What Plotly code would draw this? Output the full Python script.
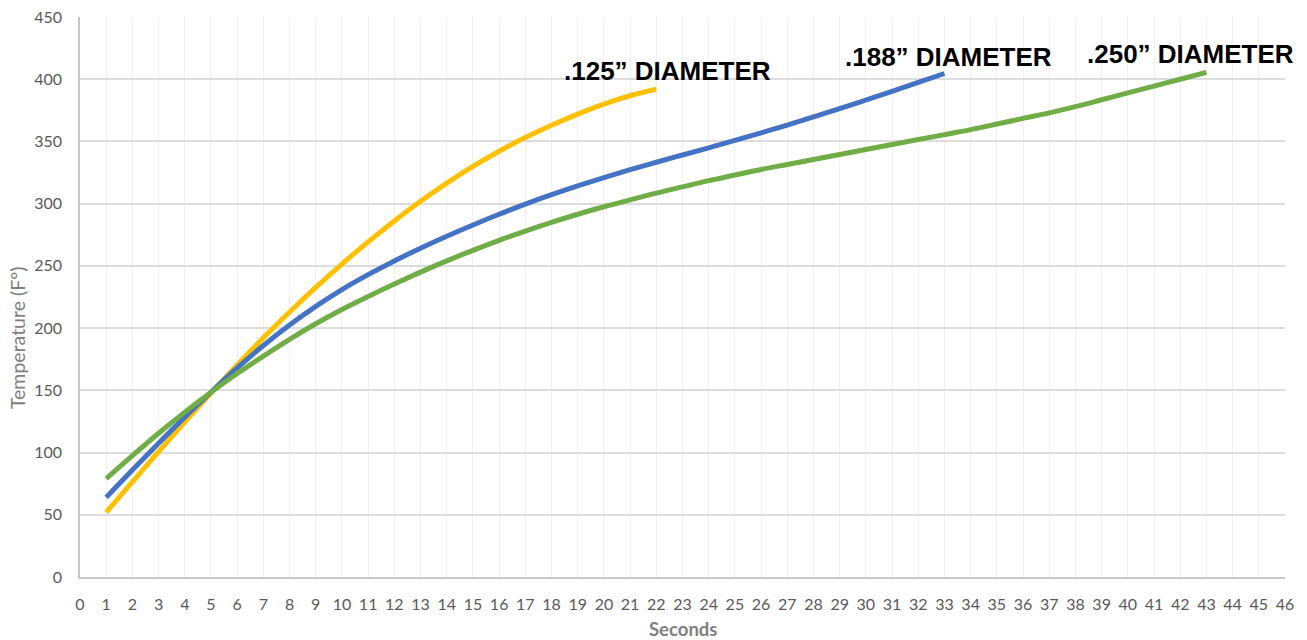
import plotly.graph_objects as go

seconds_125 = list(range(1, 23))
temp_125 = [52, 76.5, 100.7, 124.5, 147.8, 170.4, 192.2, 213, 232.8, 251.5, 269.3,
            286.1, 301.9, 316.5, 329.9, 342.1, 353.1, 363, 372, 380, 386.7, 392]

seconds_188 = list(range(1, 34))
temp_188 = [64, 86, 107.5, 128.5, 148.5, 168, 186, 202.5, 217.5, 231, 243, 254,
            264.2, 273.8, 282.9, 291.5, 299.6, 307.2, 314.3, 321, 327.3, 333.3,
            339.1, 344.9, 350.8, 356.9, 363.2, 369.7, 376.4, 383.3, 390.3, 397.4, 404.6]

seconds_250 = list(range(1, 44))
temp_250 = [79, 97.5, 115.5, 132.5, 148.5, 163.5, 177.5, 191, 203.5, 215, 225.5,
            235.5, 245, 254, 262.5, 270.5, 278, 285, 291.5, 297.5, 303, 308.5,
            313.5, 318.5, 323, 327.5, 331.5, 335.5, 339.5, 343.5, 347.5, 351.5,
            355.5, 359.5, 364, 368.5, 373, 378, 383.5, 389, 394.5, 400, 405.5]

series_names = [".125\u201d DIAMETER", ".188\u201d DIAMETER", ".250\u201d DIAMETER"]
colors = ["#FFC000", "#4472C4", "#70AD47"]

x_ticks = list(range(0, 47))
y_ticks = list(range(0, 451, 50))

fig = go.Figure()
for xs, ys, name, c in [(seconds_125, temp_125, series_names[0], colors[0]),
                        (seconds_188, temp_188, series_names[1], colors[1]),
                        (seconds_250, temp_250, series_names[2], colors[2])]:
    fig.add_trace(go.Scatter(x=xs, y=ys, mode="lines", name=name, hoverinfo="skip",
                             line=dict(color=c, width=5, shape="spline", smoothing=1.0)))

label_pos = [(22.42, 407), (33.15, 417.5), (42.4, 420)]
for (lx, ly), name in zip(label_pos, series_names):
    fig.add_annotation(x=lx, y=ly, text="<b>" + name + "</b>", showarrow=False,
                       font=dict(family="Liberation Sans, Arial", size=26, color="#000000"),
                       xanchor="center", yanchor="middle")

# axis titles
fig.add_annotation(xref="paper", yref="paper", x=0.5, y=0, yshift=-52,
                   text="<b>Seconds</b>", showarrow=False, xanchor="center", yanchor="middle",
                   font=dict(family="Lato, Open Sans, sans-serif", size=18.5, color="#7F7F7F"))
fig.add_annotation(xref="paper", yref="y", x=0, xshift=-63, y=192,
                   text="Temperature (F\u00b0)", textangle=-90, showarrow=False,
                   xanchor="center", yanchor="middle",
                   font=dict(family="Lato, Open Sans, sans-serif", size=19.5, color="#7F7F7F"))

fig.update_layout(
    width=1307, height=640,
    margin=dict(l=80, r=22, t=17, b=63),
    plot_bgcolor="white", paper_bgcolor="white",
    showlegend=False, hovermode=False,
    font=dict(family="Lato, Open Sans, sans-serif", color="#595959", size=16),
)
fig.update_xaxes(range=[0, 46], tickvals=x_ticks, ticktext=[str(v) for v in x_ticks],
                 showgrid=True, gridcolor="#F0F0F0", gridwidth=1,
                 showline=True, linecolor="#C8C8C8", linewidth=1.5,
                 zeroline=False, ticks="", automargin=False, ticklabelstandoff=12,
                 ticklabeloverflow="allow",
                 tickfont=dict(size=16, color="#595959"))
fig.update_yaxes(range=[0, 450], tickvals=y_ticks,
                 showgrid=True, gridcolor="#DDDDDD", gridwidth=1.5,
                 showline=True, linecolor="#C8C8C8", linewidth=1.5,
                 zeroline=False, ticks="", automargin=False, ticklabelstandoff=13,
                 ticklabeloverflow="allow",
                 tickfont=dict(size=16, color="#595959"))

fig.write_html("out.html", config={"displayModeBar": False},
               post_script="document.body.style.margin='0';")
